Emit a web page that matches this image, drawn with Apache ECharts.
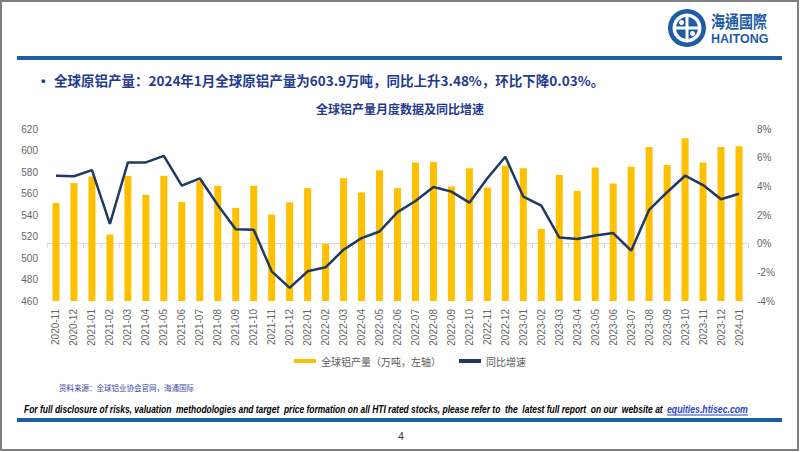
<!DOCTYPE html>
<html><head><meta charset="utf-8">
<script src="https://cdn.jsdelivr.net/npm/echarts@6/dist/echarts.min.js"></script>
<style>html,body{margin:0;padding:0;background:#fff}#c{width:802px;height:452px}</style>
</head><body><div id="c"></div>
<script>
const categories = ['2020-11','2020-12','2021-01','2021-02','2021-03','2021-04','2021-05','2021-06','2021-07','2021-08','2021-09','2021-10','2021-11','2021-12','2022-01','2022-02','2022-03','2022-04','2022-05','2022-06','2022-07','2022-08','2022-09','2022-10','2022-11','2022-12','2023-01','2023-02','2023-03','2023-04','2023-05','2023-06','2023-07','2023-08','2023-09','2023-10','2023-11','2023-12','2024-01'];
const production = [551.1,569.7,575.8,521.9,576.4,558.8,576.4,552.2,571.9,567.2,546.6,567.2,540.4,551.8,565.0,513.1,574.3,561.0,581.7,565.0,588.8,589.4,566.5,583.5,565.6,585.7,583.5,527.0,577.4,562.5,584.2,569.3,584.8,603.3,586.6,611.4,588.8,603.3,603.9];
const yoyGrowth = [4.74,4.70,5.13,1.38,5.67,5.67,6.13,4.05,4.56,2.70,1.01,0.97,-1.93,-3.09,-1.93,-1.65,-0.42,0.39,0.85,2.20,2.98,3.95,3.63,2.86,4.56,6.06,3.28,2.65,0.43,0.32,0.57,0.74,-0.49,2.36,3.59,4.74,4.09,3.10,3.48];
const leftAxisTicks = [460,480,500,520,540,560,580,600,620];
const rightAxisTicks = [-4,-2,0,2,4,6,8];
const seriesNames = ['全球铝产量（万吨，左轴）','同比增速'];

const disclaimer = 'For full disclosure of risks, valuation  methodologies and target  price formation on all HTI rated stocks, please refer to  the  latest full report  on our  website at';
const linkText = 'equities.htisec.com';
const discFont = 'italic bold 10.5px "Liberation Sans"';
const mctx = document.createElement('canvas').getContext('2d');
mctx.font = discFont;
const discScale = 640 / mctx.measureText(disclaimer).width;
const linkScale = 81 / mctx.measureText(linkText).width;

const chart = echarts.init(document.getElementById('c'), null, {renderer:'svg'});
const blue = '#1F5CA6';
const textBlue = '#1F3A8F';
const option = {
  animation:false,
  backgroundColor:'#fff',
  grid:{left:47,right:54,top:129,bottom:151},
  legend:{
    left:289, top:351, itemWidth:22, itemHeight:4, itemGap:18,
    textStyle:{fontSize:10,color:'#595959',fontFamily:'Noto Sans CJK SC'},
    data:[{name:seriesNames[0],icon:'rect'},{name:seriesNames[1],icon:'rect'}]
  },
  xAxis:{
    type:'category', data:categories, boundaryGap:true,
    axisLine:{lineStyle:{color:'#d9d9d9'}},
    axisTick:{show:true,length:4,lineStyle:{color:'#d9d9d9'}},
    axisLabel:{rotate:90,fontSize:10,color:'#666',margin:8,interval:0,fontFamily:'Liberation Sans'}
  },
  yAxis:[
    {type:'value',min:leftAxisTicks[0],max:leftAxisTicks[leftAxisTicks.length-1],interval:leftAxisTicks[1]-leftAxisTicks[0],
     splitLine:{show:false},axisLine:{show:false},axisTick:{show:false},
     axisLabel:{fontSize:10,color:'#666',margin:9,fontFamily:'Liberation Sans'}},
    {type:'value',min:rightAxisTicks[0],max:rightAxisTicks[rightAxisTicks.length-1],interval:rightAxisTicks[1]-rightAxisTicks[0],
     splitLine:{show:false},axisLine:{show:false},axisTick:{show:false},
     axisLabel:{fontSize:10,color:'#666',margin:9,formatter:'{value}%',fontFamily:'Liberation Sans'}}
  ],
  series:[
    {name:seriesNames[0],type:'bar',data:production,yAxisIndex:0,barWidth:7,itemStyle:{color:'#FFC000'}},
    {name:seriesNames[1],type:'line',data:yoyGrowth,yAxisIndex:1,symbol:'none',smooth:false,
     lineStyle:{color:'#1F3864',width:2.5},itemStyle:{color:'#1F3864'}}
  ],
  graphic:[
    {type:'rect',shape:{x:1,y:1,width:797,height:449},style:{fill:'none',stroke:'#808080',lineWidth:2},silent:true},
    {type:'rect',shape:{x:17,y:56,width:765,height:4},style:{fill:blue}},
    {type:'rect',shape:{x:17,y:418,width:765,height:4},style:{fill:blue}},
    // logo
    {type:'circle',shape:{cx:687,cy:28,r:19},style:{fill:blue}},
    {type:'circle',shape:{cx:687,cy:28,r:14.5},style:{fill:'#fff'}},
    {type:'circle',shape:{cx:687,cy:28,r:11},style:{fill:blue}},
    {type:'rect',shape:{x:676,y:26.5,width:22,height:3},style:{fill:'#fff'}},
    {type:'rect',shape:{x:685.5,y:17,width:3,height:22},style:{fill:'#fff'}},
    {type:'circle',shape:{cx:681.5,cy:22.5,r:2.5},style:{fill:'#fff'}},
    {type:'circle',shape:{cx:692.5,cy:33.5,r:2.5},style:{fill:'#fff'}},
    {type:'text',x:711,y:21,originX:0,originY:0,scaleY:1.25,style:{text:'海通國際',font:'bold 14px "Noto Sans CJK TC"',fill:blue,verticalAlign:'middle'}},
    {type:'text',x:711,y:39,style:{text:'HAITONG',font:'bold 12.5px "Liberation Sans"',fill:blue,verticalAlign:'middle'}},
    // bullet + summary
    {type:'text',x:41,y:80,style:{text:'•',font:'bold 13px "Liberation Sans"',fill:textBlue,verticalAlign:'middle'}},
    {type:'text',x:54,y:80,style:{text:'全球原铝产量：2024年1月全球原铝产量为603.9万吨，同比上升3.48%，环比下降0.03%。',font:'bold 13.5px "Noto Sans CJK SC"',fill:textBlue,verticalAlign:'middle'}},
    {type:'text',x:400,y:108,style:{text:'全球铝产量月度数据及同比增速',font:'bold 12px "Noto Sans CJK SC"',fill:textBlue,align:'center',verticalAlign:'middle'}},
    // footer
    {type:'text',x:59,y:387,style:{text:'资料来源：全球铝业协会官网，海通国际',font:'7.5px "Noto Sans CJK SC"',fill:'#3A4AA0',verticalAlign:'middle'}},
    {type:'text',x:24,y:409,originX:0,originY:0,scaleX:discScale,style:{text:disclaimer,font:discFont,fill:'#000',verticalAlign:'middle'}},
    {type:'text',x:667,y:409,originX:0,originY:0,scaleX:linkScale,style:{text:linkText,font:discFont,fill:'#1F3FD0',verticalAlign:'middle'}},
    {type:'line',shape:{x1:667,y1:415,x2:748,y2:415},style:{stroke:'#1F3FD0',lineWidth:1}},
    {type:'text',x:401,y:436,style:{text:'4',font:'10px "Liberation Sans"',fill:'#333',align:'center',verticalAlign:'middle'}}
  ]
};
chart.setOption(option);
</script></body></html>
